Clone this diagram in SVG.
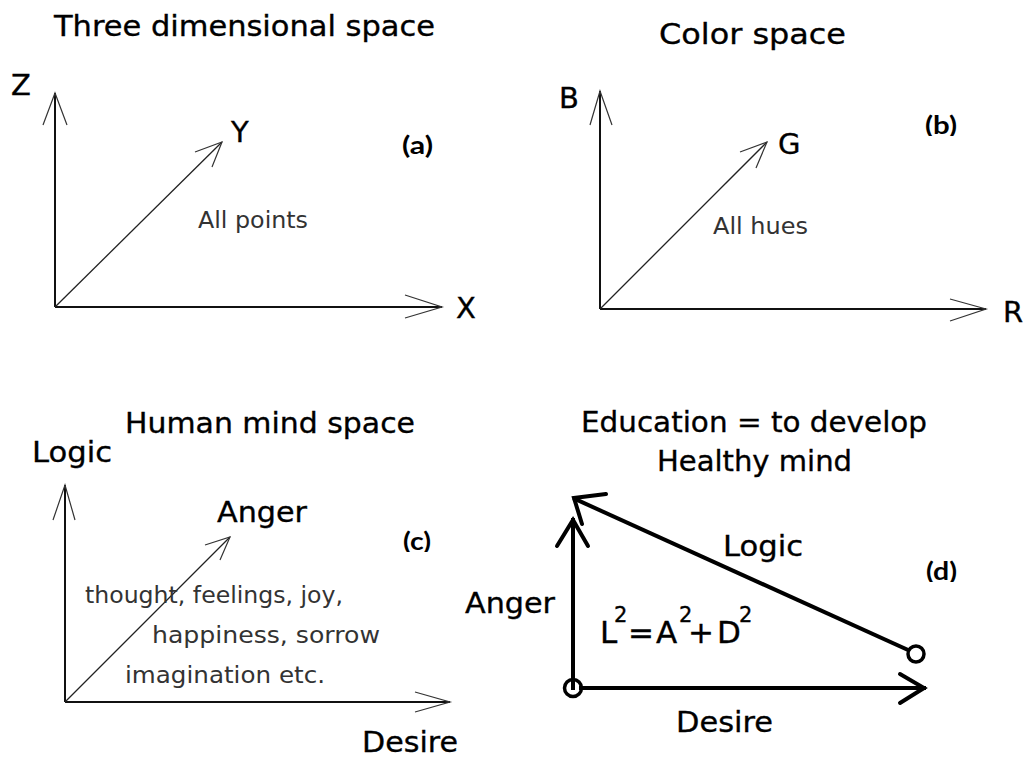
<svg xmlns="http://www.w3.org/2000/svg" width="1031" height="762" viewBox="0 0 1031 762">
<style>
.t{font-family:"DejaVu Sans","Liberation Sans",sans-serif;font-size:29px;fill:#000;stroke:#000;stroke-width:0.35}
.s{font-family:"DejaVu Sans","Liberation Sans",sans-serif;font-size:23px;fill:#333}
.p{font-family:Lato,"Open Sans",sans-serif;font-weight:bold;font-size:25px;fill:#000}
.ax{fill:none;stroke:#111;stroke-width:2}
.dg{fill:none;stroke:#222;stroke-width:1.3}
.ah{fill:none;stroke:#333;stroke-width:1.2}
.th{fill:none;stroke:#000;stroke-width:4;stroke-linecap:square}
.ci{fill:none;stroke:#000;stroke-width:3.5}
</style>
<defs>
<clipPath id="cb"><rect x="900" y="100" width="80" height="36"/></clipPath>
<clipPath id="cc"><rect x="390" y="520" width="80" height="32"/></clipPath>
<clipPath id="cd"><rect x="900" y="550" width="80" height="32"/></clipPath>
</defs>
<rect width="1031" height="762" fill="#fff"/>
<g id="connectors">
<path class="ax" d="M55 307V93M55 307H442"/>
<path class="dg" d="M55 307L222 142"/>
<polyline class="ah" points="43,125 55,93 67,125"/>
<polyline class="ah" points="405,295 442,307 405,318"/>
<polyline class="ah" points="195,152 222,142 212,167"/>
<path class="ax" d="M600 309V91M600 309H986"/>
<path class="dg" d="M600 309L767 142"/>
<polyline class="ah" points="590,125 600,91 612,125"/>
<polyline class="ah" points="950,299 986,309 950,321"/>
<polyline class="ah" points="740,152 767,142 756,168"/>
<path class="ax" d="M65 702V485M65 702H450"/>
<path class="dg" d="M65 702L230 537"/>
<polyline class="ah" points="53,520 65,485 75,520"/>
<polyline class="ah" points="415,692 450,702 415,712"/>
<polyline class="ah" points="205,545 230,537 220,560"/>
<path class="th" d="M573 688V520"/>
<polyline class="th" points="557,546 573,520 588,546" style="stroke-linecap:round"/>
<path class="th" d="M908 650L575 499"/>
<polyline class="th" points="606,494 574,498 582,524" style="stroke-linecap:round"/>
<path class="th" d="M581 688H924"/>
<polyline class="th" points="900,674 924,688 900,703" style="stroke-linecap:round"/>
<circle class="ci" cx="573" cy="688" r="8.5"/>
<circle class="ci" cx="916" cy="654" r="8"/>
</g>
<g id="panel-a">
<text class="t" x="54" y="36" textLength="381" lengthAdjust="spacingAndGlyphs">Three dimensional space</text>
<text class="t" x="11" y="95">Z</text>
<text class="t" x="231" y="142">Y</text>
<text class="t" x="456" y="318">X</text>
<text class="s" x="198" y="228" textLength="110" lengthAdjust="spacingAndGlyphs">All points</text>
<text class="p" x="402" y="154" textLength="31" lengthAdjust="spacingAndGlyphs">(a)</text>
</g>
<g id="panel-b">
<text class="t" x="659" y="44" textLength="187" lengthAdjust="spacingAndGlyphs">Color space</text>
<text class="t" x="559" y="108">B</text>
<text class="t" x="778" y="154">G</text>
<text class="t" x="1003" y="322">R</text>
<text class="s" x="713" y="234" textLength="95" lengthAdjust="spacingAndGlyphs">All hues</text>
<text class="p" x="925" y="134" textLength="32" lengthAdjust="spacingAndGlyphs" clip-path="url(#cb)">(b)</text>
</g>
<g id="panel-c">
<text class="t" x="125" y="433" textLength="290" lengthAdjust="spacingAndGlyphs">Human mind space</text>
<text class="t" x="32" y="462" textLength="80" lengthAdjust="spacingAndGlyphs">Logic</text>
<text class="t" x="217" y="522" textLength="90" lengthAdjust="spacingAndGlyphs">Anger</text>
<text class="p" x="403" y="550" textLength="28" lengthAdjust="spacingAndGlyphs" clip-path="url(#cc)">(c)</text>
<text class="s" x="85" y="603" textLength="258" lengthAdjust="spacingAndGlyphs">thought, feelings, joy,</text>
<text class="s" x="152" y="643" textLength="228" lengthAdjust="spacingAndGlyphs">happiness, sorrow</text>
<text class="s" x="125" y="683" textLength="200" lengthAdjust="spacingAndGlyphs">imagination etc.</text>
<text class="t" x="362" y="752" textLength="96" lengthAdjust="spacingAndGlyphs">Desire</text>
</g>
<g id="panel-d">
<text class="t" x="581" y="432" textLength="346" lengthAdjust="spacingAndGlyphs">Education = to develop</text>
<text class="t" x="657" y="471" textLength="195" lengthAdjust="spacingAndGlyphs">Healthy mind</text>
<text class="t" x="465" y="613" textLength="90" lengthAdjust="spacingAndGlyphs">Anger</text>
<text class="t" x="723" y="556" textLength="80" lengthAdjust="spacingAndGlyphs">Logic</text>
<text class="p" x="926" y="580" textLength="31" lengthAdjust="spacingAndGlyphs" clip-path="url(#cd)">(d)</text>
<text class="t" x="676" y="732" textLength="97" lengthAdjust="spacingAndGlyphs">Desire</text>
<text id="formula" class="t" y="643" style="font-size:31px"><tspan x="600">L</tspan><tspan x="614" dy="-21" style="font-size:21px">2</tspan><tspan x="628" dy="21">=</tspan><tspan x="656">A</tspan><tspan x="679" dy="-21" style="font-size:21px">2</tspan><tspan x="688" dy="21">+</tspan><tspan x="717">D</tspan><tspan x="739" dy="-21" style="font-size:21px">2</tspan></text>
</g>
</svg>
